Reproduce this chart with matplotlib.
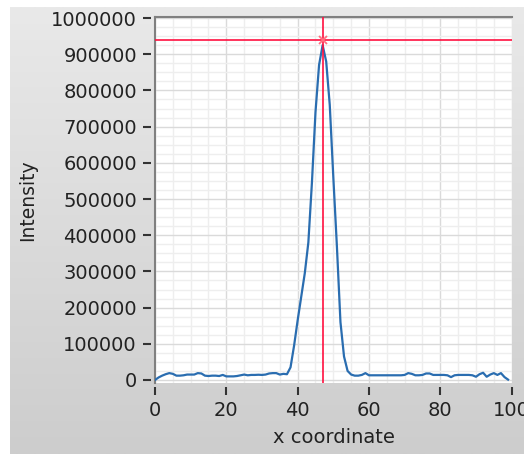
import numpy as np
import matplotlib
matplotlib.use("Agg")
import matplotlib.pyplot as plt
from matplotlib.lines import Line2D
from matplotlib.ticker import MultipleLocator

# --- data (intensity profile along x) ---
x_coord = list(range(100))
intensity = [
    0, 7000, 12000, 16000, 19000, 17000, 12000, 12000, 13000, 15000,
    15000, 15000, 19000, 18000, 12000, 11000, 12000, 12000, 11000, 14000,
    10000, 10000, 10000, 11000, 13000, 15000, 13000, 14000, 14000, 14500,
    14000, 15000, 18000, 19000, 19000, 15000, 17000, 16000, 35000, 95000,
    165000, 230000, 295000, 380000, 545000, 740000, 870000, 925000, 880000, 760000,
    560000, 370000, 160000, 65000, 25000, 15000, 12000, 12000, 14000, 19000,
    13000, 13000, 13000, 13000, 13000, 13000, 13000, 13000, 13000, 13000,
    14000, 19000, 17000, 13000, 13000, 14000, 18000, 18000, 14000, 14000,
    14000, 14000, 13000, 8000, 13000, 14000, 14000, 14000, 14000, 13000,
    9000, 16000, 20000, 9000, 15000, 19000, 14000, 19000, 8000, 1000,
]
cursor_x = 47
cursor_y = 940000

x_ticks = [0, 20, 40, 60, 80, 100]
y_ticks = list(range(0, 1000001, 100000))

W, H = 524, 454
fig = plt.figure(figsize=(W / 100, H / 100), dpi=100)
fig.patch.set_facecolor("white")

# gray panel with a soft vertical gradient
bg = fig.add_axes([10 / W, 0, (W - 10) / W, (H - 7) / H], zorder=-10)
grad = np.linspace(0, 1, 256).reshape(-1, 1)
bg.imshow(grad, aspect="auto", cmap=matplotlib.colors.LinearSegmentedColormap.from_list(
    "g", ["#e9e9e9", "#cdcdcd"]), extent=[0, 1, 0, 1], origin="upper")
bg.set_axis_off()

ax = fig.add_axes([155 / W, (H - 383) / H, 357 / W, 366 / H])
ax.set_facecolor("white")

ax.plot(x_coord, intensity, color="#2a6db0", lw=1.6, zorder=3)

# cursor
ax.axvline(cursor_x, color="#ff1040", lw=1.2, zorder=4)
ax.axhline(cursor_y, color="#ff1040", lw=1.2, zorder=4)
ax.plot([cursor_x], [cursor_y], marker="x", ms=6, mew=1.3, color="#ff7080", zorder=5)

ax.set_xlim(0, 100.1)
ax.set_ylim(-8300, 1002800)

ax.xaxis.set_major_locator(MultipleLocator(20))
ax.xaxis.set_minor_locator(MultipleLocator(5))
ax.yaxis.set_major_locator(MultipleLocator(100000))
ax.yaxis.set_minor_locator(MultipleLocator(25000))
ax.set_xticks(x_ticks)
ax.set_yticks(y_ticks)
ax.set_xticklabels([str(t) for t in x_ticks])
ax.set_yticklabels([str(t) for t in y_ticks])

ax.grid(which="major", color="#dadada", lw=1.0, zorder=0)
ax.grid(which="minor", color="#eeeeee", lw=1.0, zorder=0)
ax.set_axisbelow(True)

# ticks are detached from the frame, so push the spines out and hide them
for side in ["left", "bottom"]:
    ax.spines[side].set_position(("outward", 3))
    ax.spines[side].set_visible(False)
for side in ["right", "top"]:
    ax.spines[side].set_visible(False)
ax.add_line(Line2D([0, 0], [0, 1], transform=ax.transAxes, color="#808080", lw=1.5, clip_on=False))
ax.add_line(Line2D([0, 1], [1, 1], transform=ax.transAxes, color="#808080", lw=1.5, clip_on=False))

ax.tick_params(which="major", length=6, width=1.5, color="#333333",
               labelsize=14, labelcolor="#222222", pad=4)
ax.tick_params(which="minor", length=0)

ax.set_xlabel("x coordinate", fontsize=14, color="#222222", labelpad=6)
ax.set_ylabel("Intensity", fontsize=13.5, color="#222222", labelpad=6)
ax.yaxis.set_label_coords(-0.33, 0.5)

fig.savefig("out.png", dpi=100)
